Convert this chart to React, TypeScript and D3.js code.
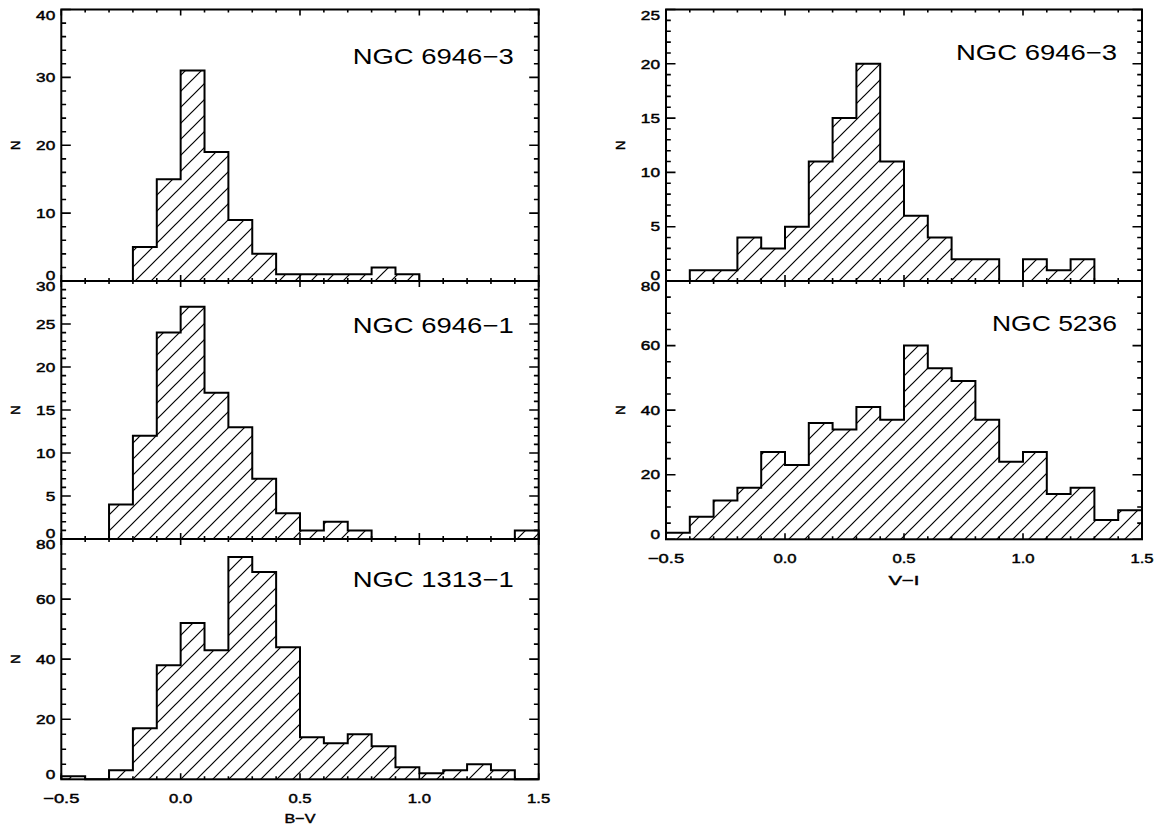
import React from 'react';
import * as d3 from 'd3';

// ---------- data ----------
const binLowerEdges = [-0.5, -0.4, -0.3, -0.2, -0.1, 0.0, 0.1, 0.2, 0.3, 0.4, 0.5, 0.6, 0.7, 0.8, 0.9, 1.0, 1.1, 1.2, 1.3, 1.4];
const binWidth = 0.1;

const bvNgc6946_3 = [0, 0, 0, 5, 15, 31, 19, 9, 4, 1, 1, 1, 1, 2, 1, 0, 0, 0, 0, 0];
const bvNgc6946_1 = [0, 0, 4, 12, 24, 27, 17, 13, 7, 3, 1, 2, 1, 0, 0, 0, 0, 0, 0, 1];
const bvNgc1313_1 = [1, 0, 3, 17, 38, 52, 43, 74, 69, 44, 14, 12, 15, 11, 4, 2, 3, 5, 3, 0];
const viNgc6946_3 = [0, 1, 1, 4, 3, 5, 11, 15, 20, 11, 6, 4, 2, 2, 0, 2, 1, 2, 0, 0];
const viNgc5236 = [2, 7, 12, 16, 27, 23, 36, 34, 41, 37, 60, 53, 49, 37, 24, 27, 14, 16, 6, 9];

const xDomain = [-0.5, 1.5];
const xMajorTicks = [-0.5, 0.0, 0.5, 1.0, 1.5];
const xMinorStep = 0.1;

const yTicks40 = [0, 10, 20, 30, 40];
const yTicks30 = [0, 5, 10, 15, 20, 25, 30];
const yTicks80 = [0, 20, 40, 60, 80];
const yTicks25 = [0, 5, 10, 15, 20, 25];

const panelNames = ['NGC 6946\u22123', 'NGC 6946\u22121', 'NGC 1313\u22121', 'NGC 6946\u22123', 'NGC 5236'];
const xTitles = ['B\u2212V', 'V\u2212I'];
const yTitle = 'N';

// ---------- layout ----------
const FONT = "'Liberation Sans', Arial, Helvetica, sans-serif";
const W = 1163;
const H = 832;

type PanelCfg = {
  counts: number[];
  name: string;
  x0: number; x1: number; y0: number; y1: number;
  yTicks: number[]; yMinor: number;
  showXLabels: boolean; xTitle: string; xTitleDy: number;
  nameY: number; nameLen: number;
};

const panels: PanelCfg[] = [
  { counts: bvNgc6946_3, name: panelNames[0], x0: 61.3, x1: 538.7, y0: 9.5, y1: 281, yTicks: yTicks40, yMinor: 2, showXLabels: false, xTitle: '', xTitleDy: 0, nameY: 63.5, nameLen: 161 },
  { counts: bvNgc6946_1, name: panelNames[1], x0: 61.3, x1: 538.7, y0: 281, y1: 539, yTicks: yTicks30, yMinor: 1, showXLabels: false, xTitle: '', xTitleDy: 0, nameY: 333, nameLen: 161 },
  { counts: bvNgc1313_1, name: panelNames[2], x0: 61.3, x1: 538.7, y0: 539, y1: 779.3, yTicks: yTicks80, yMinor: 5, showXLabels: true, xTitle: xTitles[0], xTitleDy: 44, nameY: 587, nameLen: 161 },
  { counts: viNgc6946_3, name: panelNames[3], x0: 666, x1: 1142, y0: 9.5, y1: 281, yTicks: yTicks25, yMinor: 1, showXLabels: false, xTitle: '', xTitleDy: 0, nameY: 60, nameLen: 161 },
  { counts: viNgc5236, name: panelNames[4], x0: 666, x1: 1142, y0: 281, y1: 539.3, yTicks: yTicks80, yMinor: 5, showXLabels: true, xTitle: xTitles[1], xTitleDy: 46, nameY: 331, nameLen: 125 },
];

const fmtX = (v: number) => (v < 0 ? '\u2212' : '') + Math.abs(v).toFixed(1);

// approximate advance widths of the plotting font (wide vector font)
const charW = (ch: string) => (ch === '.' ? 4 : ch === '\u2212' ? 13 : 9.6);
const labelLen = (s: string) => s.split('').reduce((a, c) => a + charW(c), 0);

function Panel({ p }: { p: PanelCfg }) {
  const x = d3.scaleLinear().domain(xDomain).range([p.x0, p.x1]);
  const ymax = p.yTicks[p.yTicks.length - 1];
  const y = d3.scaleLinear().domain([0, ymax]).range([p.y1, p.y0]);

  type Pt = { e: number; c: number };
  const pts: Pt[] = [{ e: binLowerEdges[0], c: 0 }];
  binLowerEdges.forEach((e, i) => pts.push({ e, c: p.counts[i] }));
  const last = p.counts[p.counts.length - 1];
  const upper = binLowerEdges[binLowerEdges.length - 1] + binWidth;
  pts.push({ e: upper, c: last });
  pts.push({ e: upper, c: 0 });

  const area = d3.area<Pt>().x(d => x(d.e)).y0(y(0)).y1(d => y(d.c)).curve(d3.curveStepAfter);
  const line = d3.line<Pt>().x(d => x(d.e)).y(d => y(d.c)).curve(d3.curveStepAfter);

  const xMinor = d3.range(xDomain[0], xDomain[1] + 1e-9, xMinorStep).filter(v => !xMajorTicks.some(m => Math.abs(m - v) < 1e-6));
  const yMinor = d3.range(0, ymax + 1e-9, p.yMinor).filter(v => !p.yTicks.includes(v));

  const xMajLen = 6, xMinLen = 3, yMajLen = 9.5, yMinLen = 4.8;

  const tickPath: string[] = [];
  xMajorTicks.forEach(v => {
    const X = x(v);
    tickPath.push(`M${X},${p.y1}V${p.y1 - xMajLen}M${X},${p.y0}V${p.y0 + xMajLen}`);
  });
  xMinor.forEach(v => {
    const X = x(v);
    tickPath.push(`M${X},${p.y1}V${p.y1 - xMinLen}M${X},${p.y0}V${p.y0 + xMinLen}`);
  });
  p.yTicks.forEach(v => {
    const Y = y(v);
    tickPath.push(`M${p.x0},${Y}H${p.x0 + yMajLen}M${p.x1},${Y}H${p.x1 - yMajLen}`);
  });
  yMinor.forEach(v => {
    const Y = y(v);
    tickPath.push(`M${p.x0},${Y}H${p.x0 + yMinLen}M${p.x1},${Y}H${p.x1 - yMinLen}`);
  });

  const tickText = { fontFamily: FONT, fontSize: 13, stroke: '#000', strokeWidth: 0.45 } as const;

  return (
    <g>
      <path d={area(pts) || ''} fill="url(#hatch)" stroke="none" />
      <path d={line(pts) || ''} fill="none" stroke="#000" strokeWidth={2} strokeLinejoin="miter" />
      <rect x={p.x0} y={p.y0} width={p.x1 - p.x0} height={p.y1 - p.y0} fill="none" stroke="#000" strokeWidth={2} />
      <path d={tickPath.join('')} stroke="#000" strokeWidth={1.6} fill="none" />
      {p.yTicks.map((v, i) => {
        let by = y(v) + 4.7;
        if (i === 0) by = y(v) - 0.8;
        else if (i === p.yTicks.length - 1) by = y(v) + 10;
        const s = String(v);
        return (
          <text key={'yt' + v} x={p.x0 - 6} y={by} textAnchor="end" {...tickText}
            textLength={labelLen(s)} lengthAdjust="spacingAndGlyphs">
            {s}
          </text>
        );
      })}
      {p.showXLabels && xMajorTicks.map(v => {
        const s = fmtX(v);
        return (
          <text key={'xt' + v} x={x(v)} y={p.y1 + 24} textAnchor="middle" {...tickText}
            textLength={labelLen(s)} lengthAdjust="spacingAndGlyphs">
            {s}
          </text>
        );
      })}
      {p.showXLabels && (
        <text x={(p.x0 + p.x1) / 2} y={p.y1 + p.xTitleDy} textAnchor="middle" {...tickText}
          fontSize={13.5} textLength={31} lengthAdjust="spacingAndGlyphs">
          {p.xTitle}
        </text>
      )}
      <text
        transform={`translate(${p.x0 - 46},${(p.y0 + p.y1) / 2}) rotate(-90)`}
        textAnchor="middle"
        dominantBaseline="central"
        {...tickText}
        fontSize={13}
      >
        {yTitle}
      </text>
      <text x={p.x1 - 25} y={p.nameY} textAnchor="end" fontFamily={FONT} fontSize={22}
        textLength={p.nameLen} lengthAdjust="spacingAndGlyphs">
        {p.name}
      </text>
    </g>
  );
}

export default function App() {
  return (
    <svg width={W} height={H} style={{ position: 'absolute', left: 0, top: 0, background: '#fff' }}>
      <defs>
        <pattern id="hatch" patternUnits="userSpaceOnUse" width={16} height={16}>
          <path d="M-4,4L4,-4M0,16L16,0M12,20L20,12" stroke="#000" strokeWidth={1.2} />
        </pattern>
      </defs>
      <rect x={0} y={0} width={W} height={H} fill="#fff" />
      {panels.map((p, i) => (
        <Panel key={i} p={p} />
      ))}
    </svg>
  );
}
